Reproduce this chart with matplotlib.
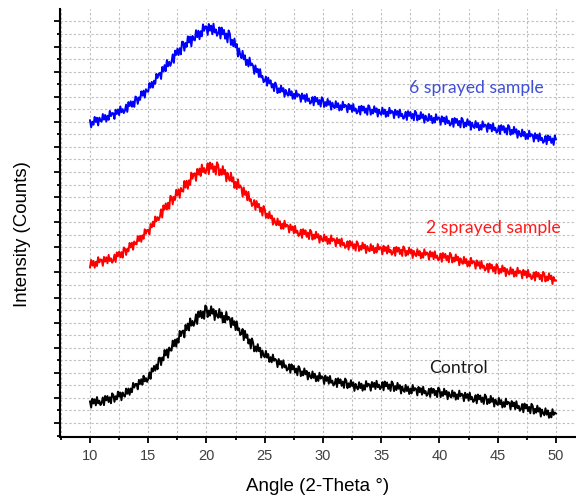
import numpy as np
import matplotlib
matplotlib.use("Agg")
import matplotlib.pyplot as plt
from matplotlib.ticker import MultipleLocator, NullFormatter

# scan range, 0.1 deg step (one row below = one degree)
two_theta = np.linspace(10, 50, 401)

counts_6_sprayed = [
    3015, 2945, 3002, 2971, 3049, 2998, 3041, 2964, 3042, 3012,  # 10
    3002, 3078, 3022, 3069, 3002, 3061, 3020, 3109, 3057, 3088,
    3085, 3029, 3121, 3078, 3124, 3067, 3154, 3096, 3127, 3087,
    3113, 3172, 3099, 3197, 3158, 3205, 3150, 3203, 3149, 3252,
    3242, 3179, 3244, 3219, 3304, 3261, 3311, 3241, 3325, 3303,
    3300, 3386, 3340, 3398, 3341, 3410, 3379, 3478, 3437, 3478,  # 15
    3488, 3427, 3547, 3502, 3565, 3504, 3616, 3553, 3598, 3558,
    3597, 3672, 3588, 3709, 3667, 3728, 3665, 3734, 3672, 3799,
    3796, 3708, 3786, 3747, 3852, 3790, 3849, 3752, 3856, 3820,
    3811, 3913, 3843, 3908, 3823, 3903, 3852, 3971, 3907, 3951,
    3950, 3866, 3975, 3908, 3958, 3873, 3977, 3890, 3921, 3857,  # 20
    3881, 3941, 3830, 3939, 3872, 3916, 3828, 3880, 3792, 3910,
    3880, 3766, 3817, 3752, 3830, 3742, 3775, 3651, 3729, 3666,
    3634, 3707, 3622, 3663, 3565, 3618, 3551, 3640, 3562, 3581,
    3559, 3478, 3562, 3495, 3528, 3446, 3525, 3442, 3458, 3395,
    3408, 3450, 3360, 3440, 3384, 3414, 3342, 3378, 3306, 3392,  # 25
    3365, 3286, 3334, 3293, 3362, 3302, 3336, 3250, 3318, 3279,
    3260, 3328, 3264, 3304, 3229, 3280, 3231, 3312, 3253, 3276,
    3265, 3199, 3282, 3229, 3266, 3199, 3277, 3209, 3231, 3181,
    3198, 3247, 3164, 3251, 3202, 3239, 3174, 3217, 3152, 3245,
    3225, 3148, 3197, 3158, 3228, 3170, 3206, 3121, 3191, 3153,  # 30
    3136, 3206, 3144, 3186, 3113, 3166, 3118, 3201, 3144, 3169,
    3160, 3095, 3179, 3127, 3165, 3099, 3177, 3110, 3133, 3084,
    3102, 3153, 3072, 3160, 3113, 3152, 3089, 3134, 3070, 3165,
    3147, 3071, 3122, 3083, 3155, 3098, 3135, 3052, 3122, 3086,
    3070, 3141, 3079, 3122, 3049, 3103, 3057, 3140, 3084, 3109,  # 35
    3101, 3037, 3121, 3070, 3108, 3043, 3122, 3056, 3079, 3031,
    3049, 3100, 3018, 3107, 3059, 3098, 3034, 3079, 3015, 3110,
    3091, 3014, 3064, 3026, 3097, 3039, 3075, 2991, 3062, 3025,
    3008, 3078, 3017, 3059, 2986, 3040, 2993, 3076, 3019, 3045,
    3036, 2971, 3055, 3004, 3042, 2976, 3055, 2988, 3012, 2963,  # 40
    2981, 3031, 2950, 3038, 2990, 3029, 2965, 3009, 2945, 3040,
    3021, 2944, 2994, 2956, 3027, 2969, 3005, 2921, 2992, 2955,
    2938, 3008, 2946, 2989, 2916, 2969, 2922, 3005, 2949, 2974,
    2965, 2900, 2984, 2933, 2971, 2905, 2984, 2917, 2941, 2892,
    2910, 2960, 2878, 2967, 2919, 2957, 2893, 2937, 2874, 2968,  # 45
    2949, 2871, 2920, 2880, 2950, 2891, 2926, 2841, 2910, 2872,
    2854, 2923, 2860, 2901, 2827, 2879, 2830, 2912, 2854, 2878,
    2868, 2803, 2887, 2834, 2872, 2806, 2885, 2818, 2840, 2791,
    2809, 2859, 2777, 2865, 2817, 2855, 2790, 2834, 2770, 2864,
    2825,
]

counts_2_sprayed = [
    1550, 1625, 1568, 1615, 1547, 1606, 1564, 1652, 1600, 1630,  # 10
    1626, 1566, 1655, 1608, 1651, 1591, 1675, 1613, 1641, 1597,
    1620, 1678, 1604, 1700, 1660, 1707, 1651, 1703, 1647, 1749,
    1738, 1674, 1736, 1710, 1794, 1749, 1797, 1726, 1809, 1784,
    1780, 1862, 1812, 1866, 1805, 1870, 1835, 1930, 1885, 1922,
    1925, 1879, 1982, 1949, 2006, 1959, 2057, 2009, 2051, 2021,  # 15
    2054, 2129, 2047, 2168, 2126, 2188, 2126, 2195, 2133, 2262,
    2255, 2178, 2253, 2222, 2323, 2269, 2328, 2243, 2342, 2313,
    2305, 2411, 2345, 2414, 2333, 2418, 2371, 2494, 2434, 2482,
    2485, 2412, 2531, 2475, 2535, 2461, 2575, 2499, 2540, 2487,
    2521, 2587, 2480, 2595, 2533, 2583, 2500, 2557, 2475, 2597,  # 20
    2573, 2468, 2528, 2472, 2559, 2480, 2521, 2407, 2493, 2440,
    2413, 2494, 2404, 2448, 2342, 2402, 2330, 2428, 2343, 2367,
    2343, 2254, 2346, 2273, 2309, 2219, 2303, 2213, 2230, 2162,
    2175, 2221, 2123, 2211, 2150, 2183, 2104, 2145, 2066, 2161,
    2128, 2044, 2086, 2040, 2104, 2039, 2067, 1976, 2039, 1994,  # 25
    1970, 2037, 1972, 2011, 1935, 1985, 1935, 2015, 1955, 1977,
    1965, 1897, 1978, 1923, 1958, 1889, 1965, 1895, 1915, 1863,
    1878, 1927, 1844, 1931, 1882, 1919, 1854, 1897, 1832, 1925,
    1905, 1827, 1876, 1836, 1906, 1847, 1881, 1796, 1865, 1827,
    1809, 1878, 1815, 1857, 1783, 1835, 1787, 1869, 1812, 1836,  # 30
    1826, 1760, 1843, 1791, 1828, 1761, 1839, 1771, 1794, 1744,
    1761, 1810, 1727, 1815, 1766, 1803, 1738, 1781, 1717, 1810,
    1790, 1714, 1764, 1726, 1797, 1740, 1777, 1693, 1764, 1727,
    1711, 1782, 1721, 1764, 1692, 1746, 1699, 1783, 1727, 1753,
    1745, 1681, 1766, 1714, 1753, 1688, 1768, 1702, 1725, 1677,  # 35
    1696, 1747, 1666, 1754, 1707, 1746, 1683, 1728, 1664, 1759,
    1741, 1665, 1715, 1677, 1748, 1691, 1728, 1644, 1715, 1678,
    1662, 1732, 1671, 1713, 1641, 1694, 1647, 1731, 1674, 1700,
    1691, 1626, 1711, 1659, 1698, 1632, 1711, 1645, 1668, 1620,
    1638, 1688, 1606, 1694, 1646, 1685, 1621, 1665, 1601, 1695,  # 40
    1676, 1599, 1648, 1609, 1679, 1621, 1656, 1572, 1641, 1604,
    1586, 1655, 1592, 1634, 1560, 1612, 1564, 1646, 1589, 1613,
    1603, 1537, 1620, 1567, 1604, 1537, 1615, 1547, 1569, 1519,
    1536, 1585, 1502, 1589, 1540, 1577, 1512, 1555, 1490, 1583,
    1563, 1486, 1536, 1498, 1569, 1511, 1547, 1463, 1534, 1497,  # 45
    1480, 1550, 1488, 1531, 1458, 1511, 1464, 1547, 1491, 1516,
    1507, 1442, 1526, 1474, 1512, 1447, 1526, 1459, 1482, 1433,
    1451, 1501, 1419, 1507, 1459, 1497, 1432, 1476, 1412, 1506,
    1487, 1410, 1460, 1420, 1491, 1433, 1469, 1385, 1454, 1417,
    1420,
]

counts_control = [
    215, 154, 243, 195, 237, 176, 259, 196, 223, 179,  # 10
    201, 255, 178, 270, 226, 269, 209, 257, 197, 296,
    281, 211, 267, 235, 313, 262, 304, 227, 304, 273,
    263, 343, 291, 344, 281, 344, 307, 400, 354, 389,
    390, 336, 430, 389, 437, 382, 471, 415, 448, 410,
    438, 505, 440, 545, 514, 569, 522, 583, 536, 647,  # 15
    652, 577, 653, 624, 727, 674, 734, 651, 752, 724,
    721, 821, 764, 831, 761, 841, 801, 918, 866, 913,
    921, 853, 977, 926, 991, 922, 1042, 970, 1017, 968,
    1008, 1083, 987, 1111, 1058, 1118, 1045, 1111, 1038, 1171,
    1156, 1056, 1121, 1070, 1163, 1089, 1135, 1026, 1118, 1069,  # 20
    1048, 1136, 1051, 1102, 1002, 1068, 1002, 1107, 1028, 1058,
    1040, 953, 1047, 976, 1014, 926, 1012, 924, 943, 877,
    890, 937, 826, 919, 849, 882, 792, 833, 743, 843,
    804, 714, 763, 713, 786, 716, 750, 652, 722, 675,
    654, 719, 651, 688, 609, 657, 605, 682, 620, 639,  # 25
    625, 557, 638, 583, 618, 549, 625, 555, 575, 523,
    538, 585, 500, 585, 534, 569, 502, 543, 476, 567,
    545, 467, 515, 475, 544, 485, 519, 434, 502, 464,
    445, 514, 450, 491, 416, 468, 419, 501, 442, 466,
    455, 389, 473, 420, 457, 391, 469, 401, 423, 374,  # 30
    391, 441, 358, 446, 397, 435, 371, 414, 350, 443,
    424, 347, 396, 357, 427, 369, 405, 320, 390, 352,
    335, 407, 348, 392, 322, 377, 332, 418, 363, 391,
    384, 322, 409, 360, 401, 339, 421, 357, 383, 337,
    358, 408, 326, 414, 366, 404, 340, 384, 320, 414,  # 35
    395, 318, 368, 329, 400, 342, 378, 294, 364, 327,
    310, 380, 319, 361, 289, 342, 295, 379, 322, 348,
    339, 275, 360, 308, 347, 282, 362, 296, 319, 271,
    290, 341, 260, 348, 301, 340, 277, 322, 258, 353,
    335, 258, 309, 270, 342, 284, 320, 237, 307, 271,  # 40
    254, 324, 263, 305, 233, 286, 239, 323, 266, 292,
    283, 218, 302, 251, 289, 223, 302, 235, 259, 210,
    228, 278, 196, 284, 236, 274, 210, 254, 190, 284,
    265, 188, 238, 199, 270, 212, 248, 164, 234, 197,
    180, 250, 187, 229, 155, 208, 161, 243, 186, 210,  # 45
    201, 136, 219, 167, 204, 138, 217, 149, 172, 122,
    140, 189, 107, 194, 146, 183, 118, 162, 97, 191,
    171, 93, 142, 103, 173, 114, 149, 64, 134, 96,
    78, 147, 84, 126, 52, 104, 56, 138, 81, 105,
    95,
]

sample_names = ["6 sprayed sample", "2 sprayed sample", "Control"]
line_colors = ["#0000FF", "#FF0000", "#000000"]
label_colors = ["#3F4FD6", "#FF1A1A", "#1A1A1A"]
label_pos = [(43.2, 3337), (44.6, 1942), (41.6, 548)]

TICK_GREY = "#404040"

fig = plt.figure(figsize=(5.76, 4.96), dpi=100)
ax = fig.add_axes([60 / 576, 1 - 437 / 496, 516 / 576, 428 / 496])

series = [counts_6_sprayed, counts_2_sprayed, counts_control]
for ys, c in zip(series, line_colors):
    ax.plot(two_theta, ys, color=c, lw=1.4, zorder=3)

for name, c, (tx, ty) in zip(sample_names, label_colors, label_pos):
    ax.text(tx, ty, name, color=c, fontsize=12.7, family="Lato",
            ha="center", va="center", zorder=4)

ax.set_xlim(7.425, 51.72)
ax.set_ylim(-139, 4124)

ax.xaxis.set_major_locator(MultipleLocator(5))
ax.xaxis.set_minor_locator(MultipleLocator(2.5))
ax.yaxis.set_major_locator(MultipleLocator(250))
ax.yaxis.set_minor_locator(MultipleLocator(125))
ax.yaxis.set_major_formatter(NullFormatter())

# dotted grid on every tick, major and minor
ax.grid(which="both", color="#BDBDBD", ls=(0, (2, 2)), lw=0.8)
ax.set_axisbelow(True)

for s in ["top", "right"]:
    ax.spines[s].set_visible(False)
for s in ["left", "bottom"]:
    ax.spines[s].set_linewidth(1.5)

ax.tick_params(which="major", direction="out", length=4.5, width=1.3, color="black")
ax.tick_params(which="minor", direction="out", length=2.2, width=1.3, color="black")
ax.tick_params(axis="x", labelsize=10.5, labelcolor=TICK_GREY, pad=4)
for lab in ax.get_xticklabels():
    lab.set_family("Liberation Sans")

ax.set_xlabel("Angle (2-Theta °)", fontsize=13.5, family="Liberation Sans", labelpad=11)
ax.set_ylabel("Intensity (Counts)", fontsize=13.4, family="Liberation Sans")
ax.yaxis.set_label_coords(-0.056, 0.474)

fig.savefig("out.png", dpi=100)
